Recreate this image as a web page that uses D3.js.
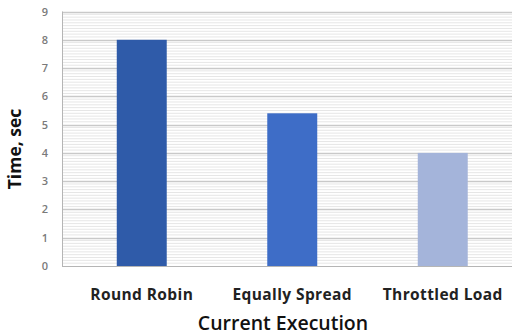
<!DOCTYPE html>
<html>
<head>
<meta charset="utf-8">
<script src="https://cdn.jsdelivr.net/npm/d3@7"></script>
<style>
  html, body { margin: 0; padding: 0; background: #fff; }
  svg { display: block; }
</style>
</head>
<body>
<svg id="chart" width="519" height="335"></svg>
<script>
// Execution time per load-balancing policy
const categories = ["Round Robin", "Equally Spread", "Throttled Load"];
const times = [8.0, 5.4, 4.0];
const barColors = ["#2f5ba9", "#3e6dc7", "#a4b4da"];
const yTicks = [0, 1, 2, 3, 4, 5, 6, 7, 8, 9];

const svg = d3.select("#chart");
const plot = { left: 62, right: 512, top: 11.5, bottom: 266 };
const font = "'Open Sans', Lato, sans-serif";

const y = d3.scaleLinear().domain([0, 9]).range([plot.bottom, plot.top]);
const x = d3.scaleBand()
  .domain(categories)
  .range([66.5, 518])
  .paddingInner(0.668)
  .paddingOuter(0.334);

// minor gridlines every 0.1
const minor = d3.range(1, 90).map(i => i / 10).filter(v => Math.abs(v - Math.round(v)) > 1e-6);
svg.append("g").selectAll("line").data(minor).join("line")
  .attr("x1", plot.left).attr("x2", plot.right)
  .attr("y1", d => y(d)).attr("y2", d => y(d))
  .attr("stroke", "#e6e6e6").attr("stroke-width", 1);

// major gridlines
svg.append("g").selectAll("line").data(yTicks.filter(d => d > 0)).join("line")
  .attr("x1", plot.left).attr("x2", plot.right)
  .attr("y1", d => Math.round(y(d)) + 0.5).attr("y2", d => Math.round(y(d)) + 0.5)
  .attr("stroke", "#c9c9c9").attr("stroke-width", 1.3);

// left and bottom frame
svg.append("line")
  .attr("x1", plot.left + 0.5).attr("x2", plot.left + 0.5)
  .attr("y1", y(9)).attr("y2", plot.bottom + 0.5)
  .attr("stroke", "#b5b5b5");
svg.append("line")
  .attr("x1", plot.left).attr("x2", plot.right)
  .attr("y1", plot.bottom + 0.5).attr("y2", plot.bottom + 0.5)
  .attr("stroke", "#b5b5b5");

// bars
svg.append("g").selectAll("rect").data(categories).join("rect")
  .attr("x", d => x(d))
  .attr("width", x.bandwidth())
  .attr("y", (d, i) => y(times[i]))
  .attr("height", (d, i) => plot.bottom - y(times[i]))
  .attr("fill", (d, i) => barColors[i]);

// y axis tick labels
const yAxis = d3.axisLeft(y).tickValues(yTicks).tickSize(0).tickPadding(14);
const yg = svg.append("g").attr("transform", `translate(${plot.left},0)`).call(yAxis);
yg.select(".domain").remove();
yg.selectAll("text")
  .attr("font-family", font)
  .attr("font-size", 11)
  .attr("font-weight", 600)
  .attr("fill", "#7a7a7a");

// x axis category labels
const xAxis = d3.axisBottom(x).tickSize(0).tickPadding(23);
const xg = svg.append("g").attr("transform", `translate(0,${plot.bottom})`).call(xAxis);
xg.select(".domain").remove();
xg.selectAll("text")
  .attr("font-family", font)
  .attr("font-size", 15.5)
  .attr("font-weight", "bold")
  .attr("letter-spacing", 0.4)
  .attr("fill", "#222");

// axis titles
svg.append("text")
  .attr("transform", "translate(21,149) rotate(-90)")
  .attr("text-anchor", "middle")
  .attr("font-family", font)
  .attr("font-size", 17.5)
  .attr("font-weight", "bold")
  .attr("fill", "#111")
  .text("Time, sec");

svg.append("text")
  .attr("x", 283).attr("y", 330)
  .attr("text-anchor", "middle")
  .attr("font-family", font)
  .attr("font-size", 19.5)
  .attr("font-weight", 600)
  .attr("fill", "#111")
  .text("Current Execution");
</script>
</body>
</html>
